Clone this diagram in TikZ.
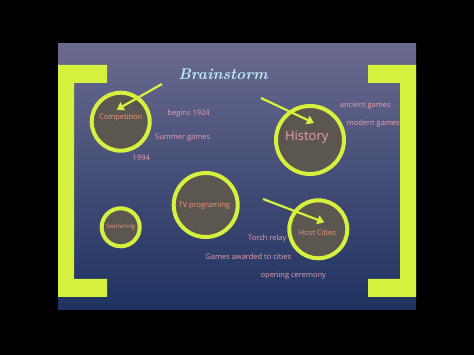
\documentclass[tikz,border=0pt]{standalone}
\usepackage{fontspec}
\usepackage{tikz}
\usetikzlibrary{calc,arrows.meta}
\newfontfamily\labelfont{Open Sans}
\definecolor{slidetop}{RGB}{106,106,142}
\definecolor{slidebot}{RGB}{30,50,96}
\definecolor{lime}{RGB}{214,240,62}
\definecolor{bubble}{RGB}{92,86,80}
\definecolor{pinktext}{RGB}{236,160,170}
\definecolor{orangetext}{RGB}{240,150,120}
\definecolor{titlecyan}{RGB}{190,235,250}

\begin{document}
\begin{tikzpicture}[x=1pt,y=-1pt,
  topic/.style={circle,draw=lime,line width=4pt,fill=bubble,inner sep=0pt,
    text=orangetext,font=\labelfont\fontsize{7.5}{9}\selectfont},
  note/.style={text=pinktext,inner sep=0pt,font=\labelfont\fontsize{7.5}{9}\selectfont},
  pointer/.style={draw=lime,line width=2.2pt,-{Triangle[length=7pt,width=9pt]}}]
\useasboundingbox (0,0) rectangle (474,355);
\fill[black] (0,0) rectangle (474,355);
\shade[top color=slidetop,bottom color=slidebot] (58,44) rectangle (416,310);
% brackets
\fill[lime] (58,65) -- (107,65) -- (107,83) -- (74,83) -- (74,279) -- (107,279)
  -- (107,297) -- (58,297) -- cycle;
\fill[lime] (416,65) -- (368,65) -- (368,83) -- (400,83) -- (400,279) -- (368,279)
  -- (368,297) -- (416,297) -- cycle;
\node[text=titlecyan,font=\bfseries\itshape\fontsize{15.5}{18}\selectfont] (title) at (223,74) {Brainstorm};
% topics
\node[topic,minimum size=58pt] (comp) at (120.7,121.7) {};
\node[topic,minimum size=68pt] (hist) at (310,140) {};
\node[topic,minimum size=64pt] (tv) at (205.7,205) {};
\node[topic,minimum size=38pt] (swim) at (120.7,227.3) {};
\node[topic,minimum size=58pt] (host) at (318.3,229.3) {};
\node[note,text=orangetext] (compl) at (120.7,117.3) {Competition};
\node[note,font=\labelfont\fontsize{13}{15}\selectfont] (histl) at (306.7,137.7) {History};
\node[note,text=orangetext] (tvl) at (204.3,205.7) {TV programing};
\node[note,text=orangetext,font=\labelfont\fontsize{6}{7}\selectfont] (swiml) at (120.7,227.3) {Swimming};
\node[note,text=orangetext] (hostl) at (317.3,233) {Host Cities};
% notes
\node[note] (begins) at (188.7,114) {begins 1924};
\node[note] (summer) at (182.7,137.3) {Summer games};
\node[note] (year) at (141.3,158.3) {1994};
\node[note] (ancient) at (365.3,105.7) {ancient games};
\node[note] (modern) at (373.3,124) {modern games};
\node[note] (torch) at (267.3,239) {Torch relay};
\node[note] (awarded) at (248.3,256.7) {Games awarded to cities};
\node[note] (opening) at (293.3,276) {opening ceremony};
% arrows
\coordinate (a1) at (162,84);
\coordinate (a2) at (261,98);
\coordinate (a3) at (263,199);
\draw[pointer] (a1) -- ($(comp.center)+(-4,-12)$);
\draw[pointer] (a2) -- ($(hist.center)+(4,-17)$);
\draw[pointer] (a3) -- ($(host.center)+(6,-7)$);
\end{tikzpicture}
\end{document}
